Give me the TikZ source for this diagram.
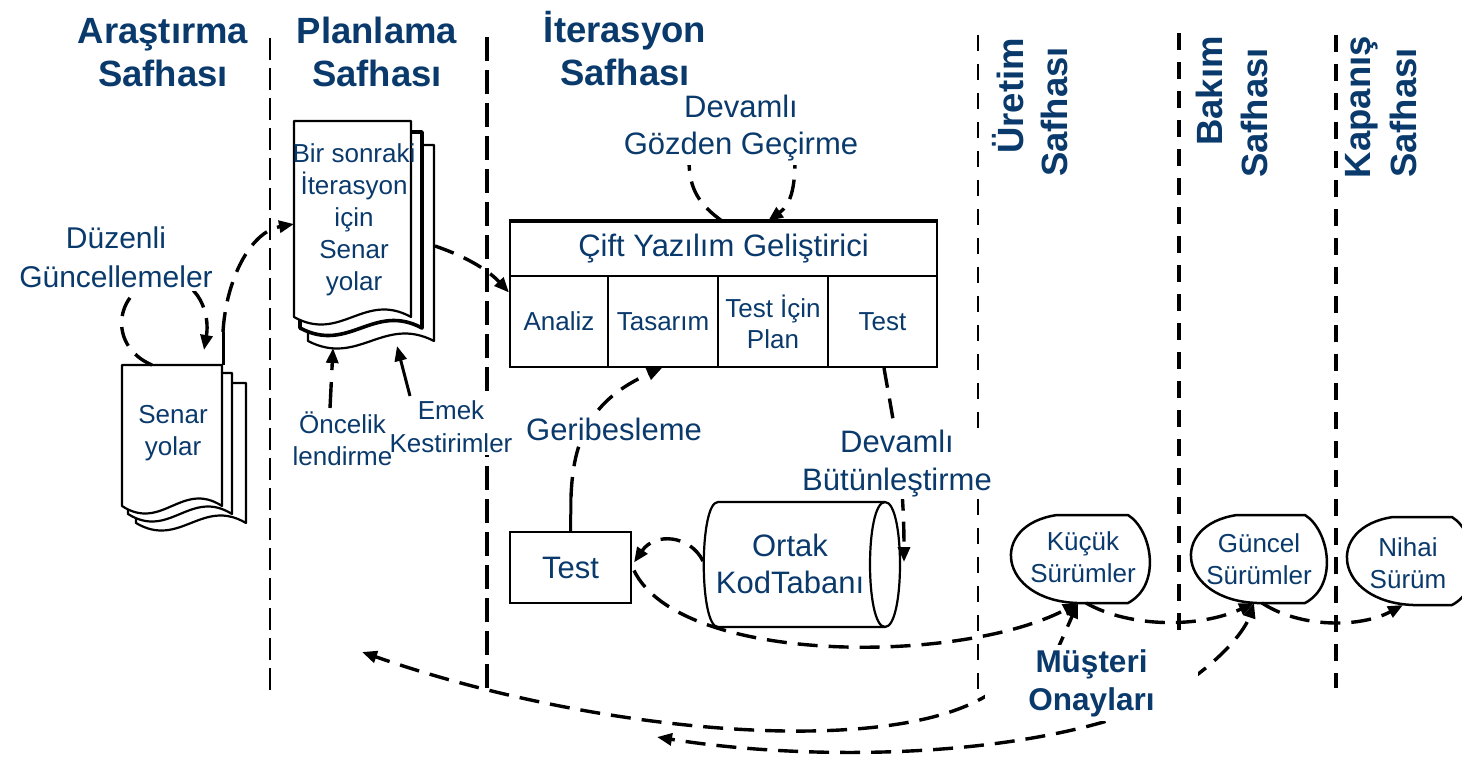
\documentclass[tikz,border=0pt]{standalone}
\usepackage{fontspec}
\setmainfont{Liberation Sans}
\usetikzlibrary{arrows.meta,calc}
\pgfdeclarelayer{paper}
\pgfdeclarelayer{bg}
\pgfdeclarelayer{mid}
\pgfsetlayers{paper,bg,mid,main}
\definecolor{ink}{HTML}{0A3A6C}
\newcommand\fsz[2]{\fontsize{#1}{#2}\selectfont}

% one sheet of a stacked document: left, top, right, bottom, line width
\newcommand\docsheet[5]{%
  \pgfmathsetmacro\sheetw{#3-#1}%
  \draw[line width=#5, line join=round, fill=white] (#1,#4) -- (#1,#2) -- (#3,#2) -- (#3,#4)
    .. controls ({#1+0.6*\sheetw},{#4-26}) and ({#1+0.4*\sheetw},{#4+26}) .. (#1,#4) -- cycle;}

% release outline with its label: name, text x, text y, outline centre y, top-left x, top-right x, text
\newcommand\relshape[7]{%
  \begin{pgfonlayer}{bg}
    \begin{scope}
      \clip (0,0) rectangle (1462,756);
      \draw[outline] (#5,{#4-44}) -- (#6,{#4-44})
        .. controls ({#6+24},{#4-29}) and ({#6+34},{#4+26}) .. (#6,{#4+44})
        -- ({#5+20},{#4+44})
        .. controls ({#5-59},{#4+41}) and ({#5-69},{#4-34}) .. (#5,{#4-44}) -- cycle;
    \end{scope}
  \end{pgfonlayer}
  \node[small, anchor=center] (#1) at (#2,#3) {#7};
  \coordinate (#1 bot) at ({#2-5},{#4+44});}

\begin{document}
\begin{tikzpicture}[x=1pt, y=-1pt,
  title/.style={font=\fsz{36.5}{43}\bfseries, text=ink, align=center, anchor=base, inner sep=0pt},
  vtitle/.style={font=\fsz{36.5}{43}\bfseries, text=ink, anchor=base, rotate=90, inner sep=0pt},
  lbl/.style={font=\fsz{31}{38}, text=ink, align=center, anchor=base, inner sep=0pt},
  small/.style={font=\fsz{26}{32}, text=ink, align=center, anchor=base, inner sep=0pt},
  mask/.style={fill=white, inner xsep=3pt, inner ysep=4pt},
  cell/.style={draw, line width=2pt, inner sep=0pt, text=ink, align=center, font=\fsz{26}{31}},
  outline/.style={line width=2.5pt, line join=round, fill=white},
  vthin/.style={line width=2pt, dash pattern=on 22pt off 8pt},
  vthick/.style={line width=3.6pt, dash pattern=on 24pt off 9pt},
  vfine/.style={line width=2pt, dash pattern=on 16pt off 13pt},
  vheavy/.style={line width=4pt, dash pattern=on 17pt off 12pt},
  conn/.style={line width=3.4pt, dash pattern=on 20pt off 11pt},
  solidconn/.style={line width=3pt},
  headed/.style={-{Triangle[length=15pt,width=12pt]}},
]
\useasboundingbox (0,0) rectangle (1462,756);
\begin{pgfonlayer}{paper}
  \fill[white] (0,0) rectangle (1462,756);
\end{pgfonlayer}

% phase titles (multi-line nodes sit on the baseline of their last line)
\node[title] (t1) at (163,86) {Araştırma\\Safhası};
\node[title] (t2) at (377,86) {Planlama\\Safhası};
\node[title] (t3) at (625,85) {İterasyon\\Safhası};
\node[vtitle] (t4a) at (1023,96) {Üretim};
\node[vtitle] (t4b) at (1067,112) {Safhası};
\node[vtitle] (t5a) at (1222,91) {Bakım};
\node[vtitle] (t5b) at (1267,113) {Safhası};
\node[vtitle] (t6a) at (1370,107) {Kapanış};
\node[vtitle] (t6b) at (1416,113) {Safhası};

% stacked documents
\begin{pgfonlayer}{bg}
  \docsheet{136}{383}{246}{523}{2.2pt}
  \docsheet{128}{373}{232}{514}{2.2pt}
  \docsheet{122}{365}{222}{506}{2.2pt}
  \docsheet{308}{145}{434}{341}{2.2pt}
  \docsheet{300}{132}{422}{328}{3.6pt}
  \docsheet{294}{121}{411}{317}{2.2pt}
\end{pgfonlayer}
\node[small] (ldoc) at (173,455) {Senar\\yolar};
\node[small, font=\fsz{26}{31.8}] (pdoc) at (354,290) {Bir sonraki\\İterasyon\\için\\Senar\\yolar};
\coordinate (ldocTR) at (223,365);
\coordinate (ldocTop) at (152,365);
\coordinate (ldocIn) at (204,350);
\coordinate (pdocIn) at (294,224);
\coordinate (pdocOut) at (435,246);
\coordinate (pdocB1) at (333,348);
\coordinate (pdocB2) at (397,346);

% side labels
\node[lbl, mask, font=\fsz{30}{39}] (duz) at (116,287) {Düzenli\\Güncellemeler};
\node[small, fill=white, inner sep=3pt, font=\fsz{26}{33}] (emek) at (451,452) {Emek\\Kestirimler};
\node[small] (once) at (342.5,465) {Öncelik\\lendirme};

% pair programming block
\node[cell, minimum width=427pt, minimum height=54pt, font=\fsz{31}{37}] (pair) at (723.5,249) {Çift Yazılım Geliştirici};
\node[cell, minimum width=98pt, minimum height=91pt] (analiz) at (559,321.5) {Analiz};
\node[cell, minimum width=110pt, minimum height=91pt] (tasarim) at (663,321.5) {Tasarım};
\node[cell, minimum width=110pt, minimum height=91pt] (plan) at (773,321.5) {Test İçin\\Plan};
\node[cell, minimum width=109pt, minimum height=91pt] (ctest) at (882.5,321.5) {Test};
\draw[line width=4pt] (pair.north west) -- (pair.north east);

\node[lbl, mask, font=\fsz{31}{37}] (devg) at (741,154) {Devamlı\\Gözden Geçirme};
\node[lbl, mask] (geri) at (614,440) {Geribesleme};
\node[lbl, mask, inner ysep=2pt] (devb) at (897,490) {Devamlı\\Bütünleştirme};

% test box and shared code base
\node[cell, minimum width=121pt, minimum height=71pt, font=\fsz{31}{37}] (tbox) at (570.5,567.5) {Test};
\begin{pgfonlayer}{bg}
  \draw[line width=2.2pt, fill=white] (718,502) -- (885,502)
    .. controls (905,502) and (905,627) .. (885,627) -- (718,627)
    .. controls (699,627) and (699,502) .. (718,502) -- cycle;
  \draw[line width=2.2pt] (885,502) .. controls (865,502) and (865,627) .. (885,627);
\end{pgfonlayer}
\node[lbl, font=\fsz{31}{37}] (code) at (790,593) {Ortak\\KodTabanı};
\coordinate (cylW) at (703,561);
\coordinate (cylE) at (904,562);

% releases
\relshape{kucuk}{1083}{557}{559}{1057}{1128}{Küçük\\Sürümler}
\relshape{guncel}{1259}{559}{559}{1237}{1305}{Güncel\\Sürümler}
\relshape{nihai}{1408}{563}{561}{1393}{1452}{Nihai\\Sürüm}

\node[lbl, fill=white, inner xsep=43pt, inner ysep=4pt, font=\fsz{31.5}{38}\bfseries] (mus) at (1091.5,710) {Müşteri\\Onayları};
\coordinate (planback) at (362,652);
\coordinate (iterback) at (657,737);

% phase boundaries
\begin{pgfonlayer}{bg}
  \draw[vthin] (270,38) -- (270,692);
  \draw[vthick] (487,37) -- (487,688);
  \draw[vfine] (978,35) -- (978,692);
  \draw[vheavy] (1179,33) -- (1179,635);
  \draw[vheavy] (1336,35) -- (1336,688);
\end{pgfonlayer}

% flows
\begin{pgfonlayer}{mid}
  \draw[conn, headed] (ldocTop) .. controls (105,345) and (115,285) .. (165,278)
    .. controls (200,280) and (210,315) .. (ldocIn);
  \draw[solidconn] (ldocTR) -- (223,332);
  \draw[conn, headed] (223,332) .. controls (226,280) and (250,232) .. (pdocIn);
  \draw[conn, headed] (pdocOut) .. controls (470,258) and (490,272) .. ($(analiz.west)+(0,-29)$);
  \draw[conn, dash pattern=on 26pt off 12pt, headed] (330,408) -- (pdocB1);
  \draw[solidconn, headed] (410,396) -- (pdocB2);
  \draw[conn, headed] ($(pair.north)+(-1.5,0)$) .. controls (700,205) and (689,190) .. (689,160)
    .. controls (689,100) and (795,100) .. (795,160)
    .. controls (795,190) and (790,205) .. ($(pair.north)+(44.5,0)$);
  \draw[solidconn] (tbox.north) -- (571,497);
  \draw[conn, headed] (571,497) .. controls (573,440) and (590,400) .. ($(tasarim.south)+(-1,0)$);
  \draw[conn, headed] ($(ctest.south)+(1.5,0)$) .. controls (893,420) and (904,470) .. (cylE);
  \draw[conn, headed] (cylW) .. controls (690,535) and (655,532) .. ($(tbox.east)+(2,-5)$);
  \draw[conn, headed] ($(tbox.east)+(2,3)$) .. controls (680,665) and (960,665) .. (kucuk bot);
  \draw[conn, headed] ($(kucuk bot)+(8,0)$) .. controls (1130,628) and (1200,628) .. (guncel bot);
  \draw[conn, headed] ($(guncel bot)+(8,0)$) .. controls (1300,628) and (1360,628) .. (nihai bot);
  \draw[conn, headed] (1055,655) -- (kucuk bot);
  \draw[conn, headed] (1190,680) .. controls (1225,655) and (1245,630) .. (guncel bot);
  \draw[conn, headed] (995,690) .. controls (900,760) and (600,735) .. (planback);
  \draw[conn, headed] (1135,712) .. controls (1000,760) and (800,760) .. (iterback);
\end{pgfonlayer}
\end{tikzpicture}
\end{document}
